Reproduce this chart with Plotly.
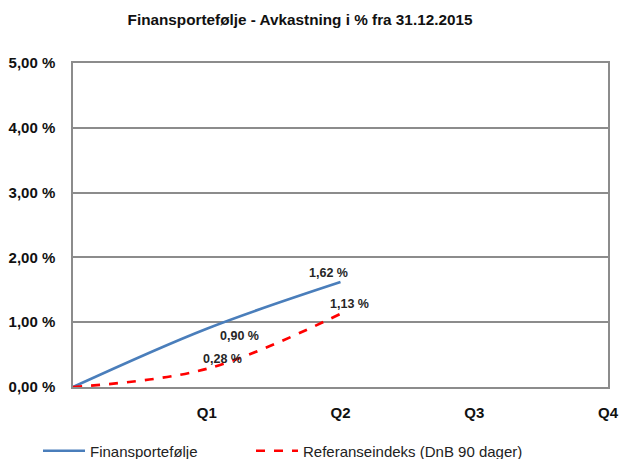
import plotly.graph_objects as go

categories = ["", "Q1", "Q2", "Q3", "Q4"]
x_pos = [0, 1, 2]
portfolio = [0.0, 0.90, 1.62]
reference = [0.0, 0.28, 1.13]
y_ticks = [0, 1, 2, 3, 4, 5]
y_tick_labels = ["0,00 %", "1,00 %", "2,00 %", "3,00 %", "4,00 %", "5,00 %"]

FONT = "Liberation Sans, Arial, sans-serif"

def fmt(v):
    return f"{v:.2f}".replace(".", ",") + " %"

fig = go.Figure()
fig.add_trace(go.Scatter(
    x=x_pos, y=portfolio, mode="lines", name="Finansportefølje",
    line=dict(color="#4a7ebb", width=2.7, shape="spline"),
    hoverinfo="skip", legend="legend",
))
fig.add_trace(go.Scatter(
    x=x_pos, y=reference, mode="lines", name="Referanseindeks (DnB 90 dager)",
    line=dict(color="#ff0000", width=2.7, dash="dash", shape="spline"),
    hoverinfo="skip", legend="legend2",
))

# label offsets in px (xshift, yshift)
label_offsets_p = [None, (33, -7), (-12, 9)]
label_offsets_r = [None, (16, 10), (9, 10)]
annotations = []
for ys, offs in [(portfolio, label_offsets_p), (reference, label_offsets_r)]:
    for xv, yv, off in zip(x_pos, ys, offs):
        if off is None:
            continue
        annotations.append(dict(
            x=xv, y=yv, text=fmt(yv), showarrow=False,
            xshift=off[0], yshift=off[1],
            font=dict(family=FONT, size=12.5, color="#262626", weight="bold"),
        ))

W, H = 619, 459
legend_common = dict(
    orientation="h", xref="container", yref="container",
    xanchor="left", y=1 - 451 / H, yanchor="middle",
    font=dict(family=FONT, size=15, color="#222222"),
    itemwidth=42, bgcolor="rgba(0,0,0,0)",
)
fig.update_layout(
    width=W, height=H,
    margin=dict(l=73, r=11, t=63, b=72, autoexpand=False),
    paper_bgcolor="white", plot_bgcolor="white",
    title=dict(text="<b>Finansportefølje - Avkastning i % fra 31.12.2015</b>",
               xref="container", yref="container",
               x=300 / W, xanchor="center", y=1 - 20 / H, yanchor="middle",
               font=dict(family=FONT, size=15.3, color="#111111")),
    xaxis=dict(range=[0, 4], tickvals=[1, 2, 3, 4], ticktext=categories[1:],
               showgrid=False, zeroline=False, showline=True, linecolor="#8c8c8c",
               linewidth=1.5, mirror=True, ticks="", automargin=False,
               tickfont=dict(family=FONT, size=15, color="#111111", weight="bold"),
               ticklabelstandoff=11, fixedrange=True),
    yaxis=dict(range=[0, 5], tickvals=y_ticks, ticktext=y_tick_labels,
               showgrid=True, gridcolor="#8c8c8c", gridwidth=1.5,
               zeroline=False, showline=True, linecolor="#8c8c8c", linewidth=1.5,
               mirror=True, ticks="", automargin=False,
               tickfont=dict(family=FONT, size=15, color="#111111", weight="bold"),
               ticklabelstandoff=13, fixedrange=True),
    legend=dict(x=38 / W, **legend_common),
    legend2=dict(x=251 / W, **legend_common),
    annotations=annotations,
    showlegend=True,
)

fig.write_html(
    "out.html",
    config={"displayModeBar": False},
    post_script="document.body.style.margin='0px';document.body.style.overflow='hidden';",
)
